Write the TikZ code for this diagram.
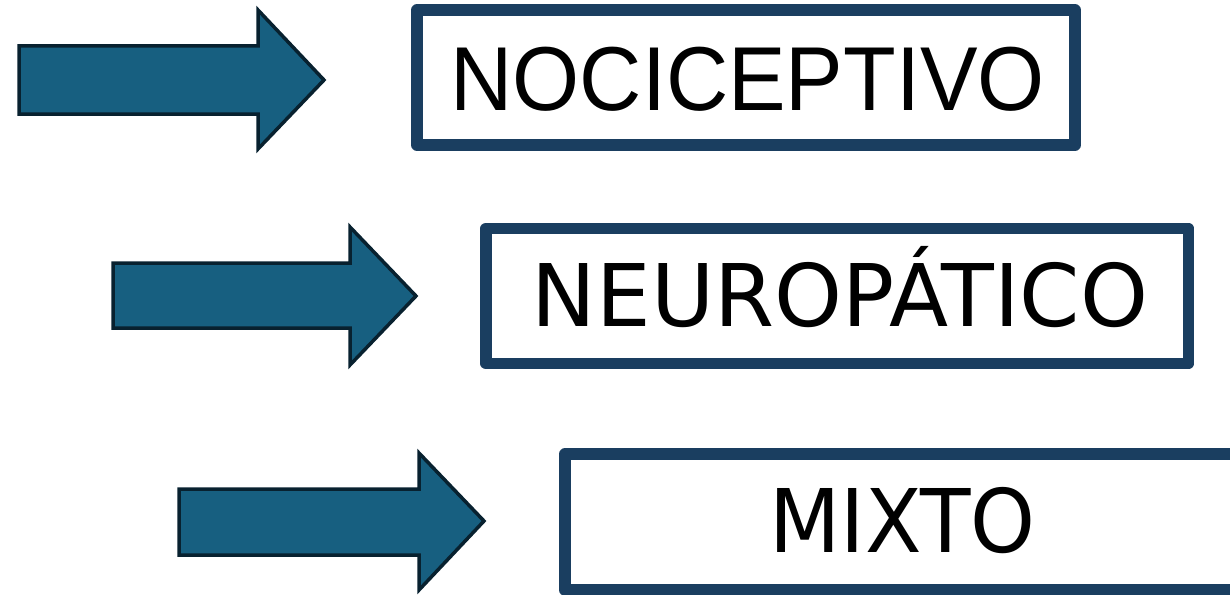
\documentclass[tikz,border=0pt]{standalone}
\usepackage{fontspec}
\newfontfamily\fonta{Liberation Sans}
\newfontfamily\fontb{DejaVu Sans}
\definecolor{arrowfill}{HTML}{175F80}
\definecolor{arrowline}{HTML}{08212F}
\definecolor{boxline}{HTML}{1A3E60}
\tikzset{
  fatarrow/.style={fill=arrowfill, draw=arrowline, line width=3.5pt, line join=miter},
  labelbox/.style={draw=boxline, line width=11.5pt, line join=round},
  labeltext/.style={anchor=base, inner sep=0pt, text=black}
}
\begin{document}
\begin{tikzpicture}[x=1pt,y=-1pt]
\useasboundingbox (0,0) rectangle (1230,594);
% arrows
\draw[fatarrow] (19,46) -- (258,46) -- (258,10) -- (324,80) -- (258,149) -- (258,114) -- (19,114) -- cycle;
\draw[fatarrow] (113,263) -- (350,263) -- (350,227) -- (416,296) -- (350,365) -- (350,328) -- (113,328) -- cycle;
\draw[fatarrow] (179,489) -- (419,489) -- (419,453) -- (484,521) -- (419,590) -- (419,555) -- (179,555) -- cycle;
% boxes
\draw[labelbox] (417,10) rectangle (1075,145);
\draw[labelbox] (486,228.5) rectangle (1188.5,363.5);
\draw[labelbox] (1250,454) -- (565,454) -- (565,590) -- (1250,590);
% texts
\node[labeltext] (noci) at (747.5,110) {\scalebox{0.95}[1]{\fonta\fontsize{90.8}{100}\selectfont NOCICEPTIVO}};
\node[labeltext] (neuro) at (840,326) {\scalebox{1}[1]{\fontb\fontsize{86.4}{100}\selectfont NEUROPÁTICO}};
\node[labeltext] (mixto) at (902.5,552) {\scalebox{0.94}[1]{\fontb\fontsize{87.8}{100}\selectfont MIXTO}};
\end{tikzpicture}
\end{document}
